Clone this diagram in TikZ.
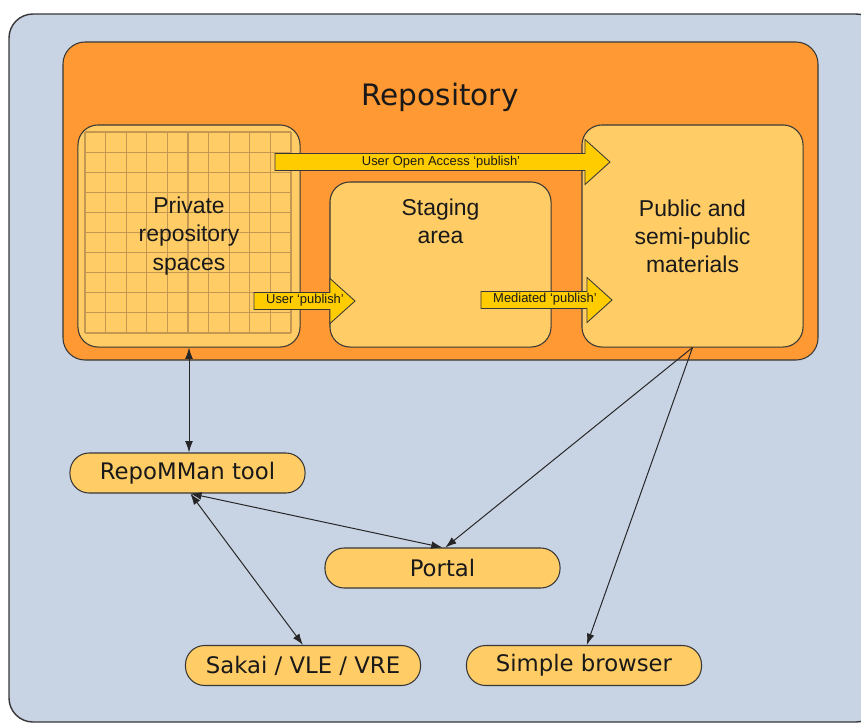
\documentclass[tikz,border=0pt]{standalone}
\usepackage{fontspec}
\setmainfont{Liberation Sans}
\newfontfamily\verdanalike{DejaVu Sans}
\usepackage{tikz}
\usetikzlibrary{arrows.meta}
\definecolor{paneblue}{RGB}{200,211,228}
\definecolor{repoorange}{RGB}{255,153,51}
\definecolor{boxorange}{RGB}{255,204,102}
\definecolor{flowgold}{RGB}{255,204,0}
\definecolor{gridtan}{RGB}{196,152,80}
\definecolor{edgegrey}{RGB}{55,55,55}
\tikzset{
  area/.style={draw=edgegrey, line width=0.75pt, fill=boxorange, rounded corners=0.5cm},
  areatext/.style={font=\fontsize{16.3}{20}\selectfont, align=center, text=black!90},
  tool/.style={draw=edgegrey, line width=0.75pt, fill=boxorange, rounded corners=0.48cm,
    minimum width=5.875cm, minimum height=1cm, inner sep=0pt,
    font=\verdanalike\fontsize{16.2}{18}\selectfont, text=black!90},
  flowlabel/.style={font=\fontsize{9.2}{10}\selectfont, inner sep=0pt, text=black!90},
  link/.style={line width=0.7pt, color=black!85, {Latex[length=8pt,width=5.5pt]}-{Latex[length=8pt,width=5.5pt]}},
  onelink/.style={line width=0.7pt, color=black!85, -{Latex[length=8pt,width=5.5pt]}}
}
% block arrow: (start x, tip x, centre y)
\def\blockarrow(#1,#2,#3){\draw[draw=edgegrey, line width=0.6pt, fill=flowgold]
  (#1,#3-8.5) -- (#2-25,#3-8.5) -- (#2-25,#3-22.5) -- (#2,#3) -- (#2-25,#3+22.5)
  -- (#2-25,#3+8.5) -- (#1,#3+8.5) -- cycle;}

\begin{document}
\begin{tikzpicture}[x=0.025cm, y=-0.025cm]
		%%%%% START %%%%%
		\useasboundingbox (0,0) rectangle (861,724);
		
		\draw[fill=paneblue, draw=edgegrey, line width=1pt, rounded corners=0.6cm] (9,14) rectangle (880,722);
		\draw[fill=repoorange, draw=edgegrey, line width=0.75pt, rounded corners=0.55cm] (63,42) rectangle (818,360);
		\node[font=\verdanalike\fontsize{21}{24}\selectfont, text=black!90] (title) at (440,97) {Repository};
		
		% private spaces with grid
		\node[area, minimum width=5.55cm, minimum height=5.55cm] (private) at (189,236) {};
		\foreach \i in {0,...,10} {
			\draw[gridtan, line width=0.8pt] (85+20.6*\i,132) -- (85+20.6*\i,333);
			\draw[gridtan, line width=0.8pt] (85,132+20.1*\i) -- (291,132+20.1*\i);
		}
		\node[areatext] (privatetext) at (189,236) {Private\\repository\\spaces};
		
		\node[area, minimum width=5.525cm, minimum height=4.125cm] (staging) at (440.5,264.5) {};
		\node[areatext, anchor=north] (stagingtext) at (440.5,194) {Staging\\area};
		
		\node[area, minimum width=5.525cm, minimum height=5.55cm] (public) at (692.5,236) {};
		\node[areatext] (publictext) at (692.5,236) {Public and\\semi-public\\materials};
		
		% publish flows
		\blockarrow(275,610,162)
		\node[flowlabel] (openaccess) at (441,162) {User Open Access `publish'};
		\blockarrow(254,355,301)
		\node[flowlabel] (userpub) at (305,300) {User `publish'};
		\blockarrow(481,612,300)
		\node[flowlabel] (mediated) at (545,299) {Mediated `publish'};
		
		% tools
		\node[tool] (repomman) at (187.5,473) {RepoMMan tool};
		\node[tool] (portal) at (442.5,568) {Portal};
		\node[tool] (sakai) at (303,665.5) {Sakai / VLE / VRE};
		\node[tool] (browser) at (584,665.5) {Simple browser};
		
		\draw[link] (private.south) -- (private.south |- repomman.north);
		\draw[link] ([xshift=2pt]repomman.south) -- (portal.north);
		\draw[link] ([xshift=2pt]repomman.south) -- (sakai.north);
		\draw[onelink] (public.south) -- ([xshift=2pt]portal.north);
		\draw[onelink] (public.south) -- ([xshift=2pt]browser.north);
		
		%%%%% END %%%%%
\end{tikzpicture}
\end{document}
